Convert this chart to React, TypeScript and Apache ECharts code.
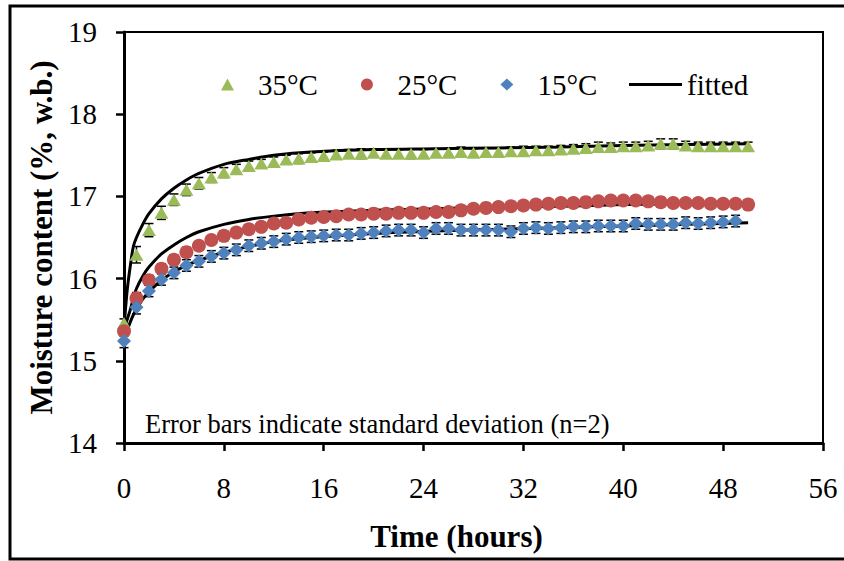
import React, { useEffect, useRef } from "react";
import * as echarts from "echarts";

const hours = [0,1,2,3,4,5,6,7,8,9,10,11,12,13,14,15,16,17,18,19,20,21,22,23,24,25,26,27,28,29,30,31,32,33,34,35,36,37,38,39,40,41,42,43,44,45,46,47,48,49,50];

const m35 = [15.46,16.29,16.59,16.80,16.96,17.08,17.16,17.23,17.29,17.33,17.37,17.40,17.42,17.45,17.46,17.48,17.49,17.51,17.52,17.52,17.53,17.52,17.52,17.52,17.52,17.53,17.53,17.54,17.53,17.54,17.54,17.55,17.55,17.56,17.56,17.57,17.58,17.59,17.60,17.60,17.61,17.61,17.62,17.64,17.64,17.62,17.61,17.61,17.61,17.61,17.61];
const m25 = [15.36,15.76,15.98,16.12,16.23,16.32,16.40,16.47,16.52,16.56,16.60,16.63,16.67,16.68,16.72,16.74,16.75,16.76,16.78,16.78,16.79,16.79,16.80,16.80,16.80,16.81,16.81,16.83,16.85,16.86,16.87,16.88,16.89,16.90,16.91,16.92,16.92,16.93,16.94,16.95,16.95,16.95,16.94,16.93,16.92,16.92,16.92,16.91,16.91,16.91,16.90];
const m15 = [15.24,15.65,15.85,15.99,16.07,16.16,16.21,16.27,16.31,16.35,16.40,16.43,16.45,16.48,16.50,16.51,16.52,16.53,16.53,16.55,16.56,16.58,16.59,16.59,16.56,16.61,16.61,16.59,16.59,16.59,16.59,16.57,16.61,16.62,16.61,16.62,16.63,16.63,16.64,16.64,16.64,16.67,16.66,16.66,16.66,16.68,16.67,16.68,16.69,16.70];

const sd35 = [0.05,0.10,0.08,0.08,0.07,0.07,0.07,0.06,0.06,0.06,0.06,0.05,0.06,0.05,0.06,0.05,0.05,0.05,0.05,0.06,0.05,0.05,0.05,0.06,0.05,0.05,0.05,0.06,0.05,0.05,0.05,0.05,0.06,0.05,0.05,0.05,0.05,0.05,0.06,0.05,0.05,0.05,0.05,0.06,0.06,0.05,0.05,0.05,0.05,0.05,0.05];
const sd25 = [0.06,0.07,0.06,0.06,0.06,0.06,0.05,0.05,0.06,0.05,0.05,0.05,0.05,0.05,0.05,0.05,0.05,0.05,0.05,0.05,0.05,0.05,0.05,0.05,0.05,0.05,0.05,0.05,0.05,0.05,0.05,0.05,0.05,0.05,0.05,0.05,0.05,0.05,0.05,0.05,0.05,0.05,0.05,0.05,0.05,0.05,0.05,0.05,0.05,0.05,0.06];
const sd15 = [0.08,0.08,0.07,0.07,0.07,0.07,0.07,0.07,0.07,0.07,0.07,0.07,0.07,0.07,0.07,0.07,0.07,0.07,0.07,0.07,0.07,0.07,0.07,0.07,0.07,0.07,0.07,0.07,0.07,0.07,0.07,0.07,0.07,0.07,0.07,0.07,0.07,0.07,0.07,0.07,0.07,0.07,0.07,0.07,0.07,0.07,0.07,0.07,0.07,0.07];

const fitHours = [0,0.25,0.5,0.75,1,1.5,2,3,4,5,6,8,10,12,15,20,25,30,35,40,45,50];
const fit35 = [15.40,15.85,16.15,16.39,16.50,16.66,16.79,16.97,17.10,17.20,17.28,17.39,17.45,17.50,17.54,17.57,17.58,17.59,17.60,17.62,17.63,17.64];
const fit25 = [15.36,15.50,15.62,15.76,15.88,16.03,16.14,16.30,16.41,16.50,16.57,16.66,16.72,16.76,16.80,16.83,16.85,16.87,16.88,16.90,16.91,16.91];
const fit15 = [15.25,15.37,15.47,15.56,15.63,15.75,15.84,15.98,16.08,16.16,16.22,16.32,16.39,16.45,16.50,16.55,16.58,16.60,16.62,16.64,16.66,16.68];

const markerNames = ["35°C", "25°C", "15°C"];
const fitName = "fitted";
const xTicks = { min: 0, max: 56, interval: 8 };
const yTicks = { min: 14, max: 19, interval: 1 };

const FONT = "Liberation Serif";

function pairs(xs: number[], ys: number[]) {
  return ys.map((y, i) => [xs[i], y]);
}
function triples(xs: number[], ys: number[], sd: number[]) {
  return ys.map((y, i) => [xs[i], y, sd[i]]);
}

function errorSeries(data: number[][]) {
  return {
    type: "custom",
    z: 2,
    silent: true,
    data,
    renderItem: (params: any, api: any) => {
      const x = api.value(0);
      const y = api.value(1);
      const s = api.value(2);
      const hi = api.coord([x, y + s]);
      const lo = api.coord([x, y - s]);
      const w = 4.5;
      const st = { stroke: "#000", lineWidth: 1.5 };
      return {
        type: "group",
        children: [
          { type: "line", shape: { x1: hi[0], y1: hi[1], x2: lo[0], y2: lo[1] }, style: st },
          { type: "line", shape: { x1: hi[0] - w, y1: hi[1], x2: hi[0] + w, y2: hi[1] }, style: st },
          { type: "line", shape: { x1: lo[0] - w, y1: lo[1], x2: lo[0] + w, y2: lo[1] }, style: st },
        ],
      };
    },
  };
}

function fitSeries(ys: number[]) {
  return {
    name: fitName,
    type: "line",
    z: 1,
    data: pairs(fitHours, ys),
    smooth: 0.3,
    symbol: "none",
    showSymbol: false,
    lineStyle: { color: "#000", width: 3 },
    itemStyle: { color: "#000" },
  };
}

export default function App() {
  const ref = useRef<HTMLDivElement>(null);
  useEffect(() => {
    if (!ref.current) return;
    const chart = echarts.init(ref.current, undefined, { renderer: "svg" });
    const axisText = { fontFamily: FONT, fontSize: 29, color: "#000" };
    const legendText = { fontFamily: FONT, fontSize: 29, color: "#000" };
    const option: any = {
      animation: false,
      backgroundColor: "#fff",
      textStyle: { fontFamily: FONT },
      grid: {
        left: 124, right: 21, top: 32, bottom: 118,
        show: true, borderColor: "#000", borderWidth: 2, backgroundColor: "transparent",
      },
      legend: [
        {
          data: [
            { name: markerNames[0], icon: "triangle" },
            { name: markerNames[1], icon: "circle" },
            { name: markerNames[2], icon: "diamond" },
          ],
          left: 216,
          top: 65,
          itemWidth: 13,
          itemHeight: 12,
          itemGap: 43,
          textStyle: { ...legendText, padding: [0, 0, 0, 19] },
          selectedMode: false,
        },
        {
          data: [{ name: fitName, icon: "rect", itemStyle: { color: "#000" } }],
          left: 624,
          top: 65,
          itemWidth: 53,
          itemHeight: 3,
          textStyle: legendText,
          selectedMode: false,
        },
      ],
      xAxis: {
        type: "value",
        ...xTicks,
        axisLine: { show: true, onZero: false, lineStyle: { color: "#000", width: 3 } },
        axisTick: { show: true, inside: false, length: 8, lineStyle: { color: "#000", width: 2.5 } },
        axisLabel: { ...axisText, margin: 30 },
        splitLine: { show: false },
        name: "Time (hours)",
        nameLocation: "middle",
        nameGap: 78,
        nameTextStyle: { fontFamily: FONT, fontSize: 31, fontWeight: "bold", color: "#000", padding: [0, 34, 0, 0] },
      },
      yAxis: {
        type: "value",
        ...yTicks,
        axisLine: { show: true, onZero: false, lineStyle: { color: "#000", width: 3 } },
        axisTick: { show: true, inside: false, length: 8, lineStyle: { color: "#000", width: 2.5 } },
        axisLabel: { ...axisText, margin: 27 },
        splitLine: { show: false },
        name: "Moisture content (%, w.b.)",
        nameLocation: "middle",
        nameRotate: 90,
        nameGap: 66,
        nameTextStyle: { fontFamily: FONT, fontSize: 31, fontWeight: "bold", color: "#000" },
      },
      graphic: [
        {
          type: "rect",
          silent: true,
          shape: { x: 10, y: 6, width: 840, height: 553 },
          style: { fill: "none", stroke: "#000", lineWidth: 3 },
          z: 100,
        },
        {
          type: "text",
          left: 145,
          top: 410,
          style: {
            text: "Error bars indicate standard deviation (n=2)",
            fontFamily: FONT,
            fontSize: 26.5,
            fill: "#000",
          },
        },
      ],
      series: [
        fitSeries(fit35),
        fitSeries(fit25),
        fitSeries(fit15),
        errorSeries(triples(hours, m35, sd35)),
        errorSeries(triples(hours, m25, sd25)),
        errorSeries(triples(hours, m15, sd15)),
        {
          name: markerNames[0], type: "scatter", z: 3, symbol: "triangle", symbolSize: [14, 12],
          itemStyle: { color: "#9BBB59", opacity: 1 }, data: pairs(hours, m35),
        },
        {
          name: markerNames[1], type: "scatter", z: 3, symbol: "circle", symbolSize: 14,
          itemStyle: { color: "#C0504D", opacity: 1 }, data: pairs(hours, m25),
        },
        {
          name: markerNames[2], type: "scatter", z: 3, symbol: "diamond", symbolSize: 14,
          itemStyle: { color: "#4F81BD", opacity: 1 }, data: pairs(hours, m15),
        },
      ],
    };
    chart.setOption(option);
    return () => chart.dispose();
  }, []);
  return (
    <div
      ref={ref}
      style={{ position: "fixed", left: 0, top: 0, width: 844, height: 561, background: "#fff" }}
    />
  );
}
